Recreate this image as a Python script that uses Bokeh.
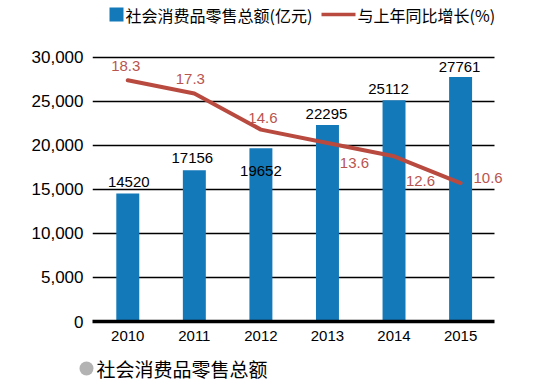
from bokeh.plotting import figure
from bokeh.models import (Range1d, ColumnDataSource, LabelSet, Label,
                          NumeralTickFormatter, FixedTicker, BoxAnnotation, Arrow)
from bokeh.core.properties import value
from bokeh.embed import file_html
from bokeh.resources import INLINE

years = [2010, 2011, 2012, 2013, 2014, 2015]
sales = [14520, 17156, 19652, 22295, 25112, 27761]
growth = [18.3, 17.3, 14.6, 13.6, 12.6, 10.6]
y_ticks = [0, 5000, 10000, 15000, 20000, 25000, 30000]

legend_bar = "社会消费品零售总额(亿元)"
legend_line = "与上年同比增长(%)"
footer = "社会消费品零售总额"

# label offsets (screen px) - styling only
sales_dx = [1, -2, 0, -1, -5.5, -1]
sales_dy = [12, 12.5, -23, 11.5, 11, 10]
growth_dx = [-2, -4, 2, 27, 26.5, 27.5]
growth_dy = [14, 15, 12, -20, -25, 5]

BLUE = "#1479b8"
RED = "#b94a40"
RED_TXT = "#b9554f"
FONT = "Liberation Sans"
CJK = "Noto Sans CJK SC"

src = ColumnDataSource(dict(year=years, sales=sales, growth=growth,
                            sdx=sales_dx, sdy=sales_dy, gdx=growth_dx, gdy=growth_dy,
                            slab=[str(v) for v in sales], glab=[f"{v:.1f}" for v in growth]))

X0, X1, XG = 2009.47, 2015.90, 2015.51
p = figure(x_range=Range1d(X0, X1), y_range=Range1d(0, 36436),
           width=535, height=352, output_backend="svg", toolbar_location=None,
           min_border_left=92, min_border_right=15, min_border_top=0, min_border_bottom=31)
p.extra_y_ranges = {"rate": Range1d(0.23, 24.27)}
p.outline_line_color = None
p.background_fill_color = "white"
p.border_fill_color = "white"

p.vbar(x="year", top="sales", width=0.345, source=src, fill_color=BLUE, line_color=None)
p.line(x="year", y="growth", source=src, y_range_name="rate", line_color=RED,
       line_width=4, line_join="round", line_cap="round")

p.xgrid.grid_line_color = None
p.ygrid.ticker = FixedTicker(ticks=y_ticks)
p.ygrid.grid_line_color = "black"
p.ygrid.grid_line_width = 1.4
p.ygrid.cross_bounds = (X0, XG)

p.yaxis.ticker = FixedTicker(ticks=y_ticks)
p.yaxis.formatter = NumeralTickFormatter(format="0,0")
p.yaxis.axis_line_color = None
p.yaxis.major_tick_line_color = None
p.yaxis.minor_tick_line_color = None
p.yaxis.major_tick_out = 0
p.yaxis.major_tick_in = 0
p.yaxis.major_label_standoff = 9
p.yaxis.major_label_text_font = FONT
p.yaxis.major_label_text_font_size = "17px"
p.yaxis.major_label_text_color = "black"

p.xaxis.ticker = FixedTicker(ticks=years)
p.xaxis.bounds = (X0, XG)
p.xaxis.axis_line_color = "black"
p.xaxis.axis_line_width = 3.3
p.xaxis.major_tick_line_color = None
p.xaxis.minor_tick_line_color = None
p.xaxis.major_tick_out = 0
p.xaxis.major_tick_in = 0
p.xaxis.major_label_standoff = 9
p.xaxis.major_label_text_font = FONT
p.xaxis.major_label_text_font_size = "15px"
p.xaxis.major_label_text_color = "black"

p.add_layout(LabelSet(x="year", y="sales", text="slab", source=src, x_offset="sdx", y_offset="sdy",
                      text_align="center", text_baseline="middle", text_font=value(FONT),
                      text_font_size=value("15px"), text_color="black"))
p.add_layout(LabelSet(x="year", y="growth", y_range_name="rate", text="glab", source=src,
                      x_offset="gdx", y_offset="gdy", text_align="center", text_baseline="middle",
                      text_font=value(FONT), text_font_size=value("15px"), text_color=RED_TXT))

# top legend (screen units relative to frame bottom-left)
p.add_layout(BoxAnnotation(left=17, right=31, top=314, bottom=300, left_units="screen",
                           right_units="screen", top_units="screen", bottom_units="screen",
                           fill_color=BLUE, fill_alpha=1, line_color=None))
p.add_layout(Label(x=33, y=307, x_units="screen", y_units="screen", text=legend_bar,
                   text_font=CJK, text_font_size="16px", text_baseline="middle",
                   text_color="black"))
p.add_layout(Arrow(end=None, x_start=229, y_start=307, x_end=263, y_end=307,
                   start_units="screen", end_units="screen", line_color=RED, line_width=3.5))
p.add_layout(Label(x=265, y=307, x_units="screen", y_units="screen", text=legend_line,
                   text_font=CJK, text_font_size="16px", text_baseline="middle",
                   text_color="black"))

# footer strip (separate root, so its frame is not aligned to the chart's)
f = figure(width=535, height=30, output_backend="svg", toolbar_location=None,
           x_range=Range1d(0, 535), y_range=Range1d(0, 30), x_axis_type=None, y_axis_type=None,
           min_border=0, min_border_left=0, min_border_right=0, min_border_top=0, min_border_bottom=0)
f.outline_line_color = None
f.xgrid.grid_line_color = None
f.ygrid.grid_line_color = None
fsrc = ColumnDataSource(dict(x=[86], y=[14], tx=[96], t=[footer]))
f.scatter(x="x", y="y", source=fsrc, size=14, marker="circle", fill_color="#b3b3b3", line_color=None)
f.text(x="tx", y="y", text="t", source=fsrc, text_font=value(CJK), text_font_size="19px",
       text_baseline="middle", text_align="left", text_color="black")

open("out.html", "w").write(file_html([p, f], INLINE))
